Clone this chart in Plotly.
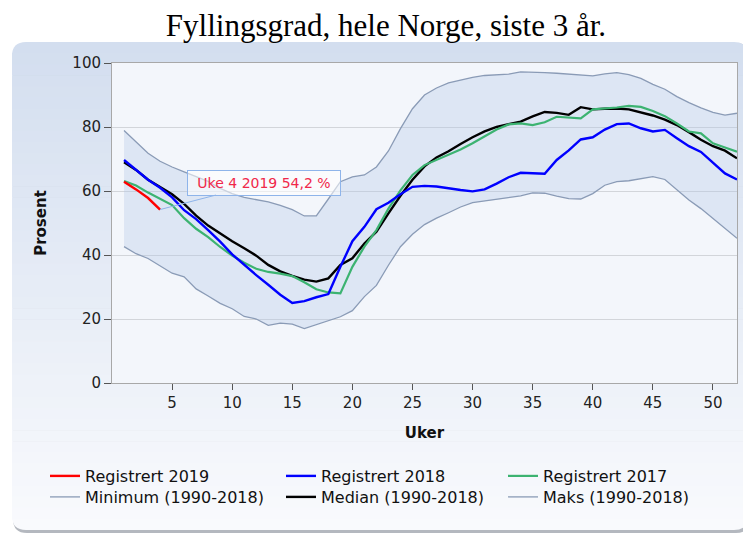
import plotly.graph_objects as go

# ---------------- data ----------------
weeks = list(range(1, 53))

reg2019_weeks = [1, 2, 3, 4]
reg2019 = [62.9, 60.5, 57.8, 54.2]

reg2018 = [69.7, 66.6, 63.5, 61.0, 58.0, 54.0, 51.2, 47.8, 44.2, 40.2,
           36.9, 33.7, 30.7, 27.6, 25.0, 25.6, 26.8, 27.8, 36.3, 44.3,
           48.8, 54.3, 56.3, 59.0, 61.3, 61.6, 61.4, 60.8, 60.3, 59.9,
           60.5, 62.3, 64.3, 65.7, 65.5, 65.4, 69.7, 72.7, 76.1, 76.8,
           79.2, 80.9, 81.1, 79.6, 78.6, 79.1, 76.5, 74.0, 72.2, 68.8,
           65.5, 63.6]

reg2017 = [63.1, 61.7, 59.5, 57.6, 55.6, 51.5, 48.2, 45.6, 42.5, 39.8,
           37.6, 35.7, 34.7, 34.2, 33.4, 31.5, 29.3, 28.3, 28.0, 36.3,
           42.6, 47.8, 54.5, 60.2, 65.0, 68.1, 69.7, 71.5, 73.0, 74.9,
           77.0, 79.2, 80.8, 81.1, 80.6, 81.5, 83.2, 83.0, 82.7, 85.5,
           85.7, 86.1, 86.6, 86.3, 85.0, 83.4, 81.1, 78.6, 78.0, 74.9,
           73.6, 72.3]

median = [69.0, 66.6, 63.5, 61.2, 59.0, 56.0, 52.3, 49.2, 46.7, 44.3,
          42.1, 39.8, 36.9, 34.9, 33.5, 32.3, 31.7, 32.7, 36.9, 39.0,
          43.6, 47.3, 53.0, 58.5, 63.5, 67.7, 70.5, 72.4, 74.7, 76.8,
          78.6, 80.0, 80.9, 81.7, 83.3, 84.7, 84.4, 83.8, 86.2, 85.5,
          85.7, 85.8, 85.5, 84.6, 83.6, 82.3, 80.6, 78.4, 76.0, 74.0,
          72.6, 70.2]

maks = [78.9, 75.5, 71.8, 69.3, 67.5, 66.0, 64.5, 63.0, 60.8, 59.2,
        58.0, 57.2, 56.6, 55.5, 54.2, 52.2, 52.2, 57.5, 62.9, 64.4,
        65.0, 67.5, 72.5, 79.5, 85.7, 90.0, 92.2, 93.8, 94.7, 95.5,
        96.1, 96.2, 96.5, 97.2, 97.2, 97.0, 96.8, 96.6, 96.3, 96.0,
        96.6, 97.0, 96.4, 95.2, 93.3, 91.8, 89.5, 87.6, 86.0, 84.6,
        83.7, 84.3]

minimum = [42.6, 40.4, 38.9, 36.5, 34.3, 33.2, 29.4, 27.2, 24.9, 23.2,
           20.8, 20.0, 18.0, 18.7, 18.4, 17.0, 18.3, 19.4, 20.7, 22.6,
           27.0, 30.5, 36.8, 42.6, 46.5, 49.5, 51.5, 53.2, 55.0, 56.4,
           56.9, 57.3, 57.8, 58.5, 59.4, 59.3, 58.4, 57.6, 57.5, 59.2,
           61.8, 62.9, 63.2, 63.8, 64.5, 63.6, 60.3, 57.2, 54.5, 51.3,
           48.2, 45.2]

x_ticks = [5, 10, 15, 20, 25, 30, 35, 40, 45, 50]
y_ticks = [0, 20, 40, 60, 80, 100]

title_text = "Fyllingsgrad, hele Norge, siste 3 år."
tooltip_text = "Uke 4 2019 54,2 %"

# ---------------- geometry helpers (decoration only) ----------------
# page body has an 8px margin; positions below are page pixels
OFF = 8
W, H = 751, 535
PL, PT, PR, PB = 112, 63, 737, 383          # plot area on the page
ML, MT = PL - OFF, PT - OFF
PW, PH = PR - PL, PB - PT
MR, MB = W - ML - PW, H - MT - PH


def px(x):
    return (x - PL) / PW


def py(y):
    return (PB - y) / PH


def hexmix(c1, c2, t):
    a = [int(c1[i:i + 2], 16) for i in (1, 3, 5)]
    b = [int(c2[i:i + 2], 16) for i in (1, 3, 5)]
    return "#" + "".join(f"{round(a[k] + (b[k] - a[k]) * t):02x}" for k in range(3))


def rpath(x0, y0, x1, y1, r, top=True, bottom=True):
    P = lambda x, y: f"{px(x):.5f},{py(y):.5f}"
    s = ""
    if top:
        s += f"M{P(x0 + r, y0)} L{P(x1 - r, y0)} Q{P(x1, y0)} {P(x1, y0 + r)} "
    else:
        s += f"M{P(x0, y0)} L{P(x1, y0)} "
    if bottom:
        s += f"L{P(x1, y1 - r)} Q{P(x1, y1)} {P(x1 - r, y1)} L{P(x0 + r, y1)} Q{P(x0, y1)} {P(x0, y1 - r)} "
    else:
        s += f"L{P(x1, y1)} L{P(x0, y1)} "
    if top:
        s += f"L{P(x0, y0 + r)} Q{P(x0, y0)} {P(x0 + r, y0)} Z"
    else:
        s += "Z"
    return s


shapes = []
X0, Y0, X1, Y1, RAD = 12, 42, 748, 530, 14
C_TOP, C_BOT = "#d3deef", "#f9fafd"
# shadow
shapes.append(dict(type="path", xref="paper", yref="paper", layer="below",
                   path=rpath(X0 + 1, Y0 + 1, X1 + 2, Y1 + 3, RAD),
                   fillcolor="#b4b8bf", line=dict(width=0)))
# gradient panel
N = 44
step = (Y1 - Y0) / N
for i in range(N):
    ya = Y0 + i * step
    yb = ya + step + 0.6
    col = hexmix(C_TOP, C_BOT, i / (N - 1))
    if i == 0:
        pth = rpath(X0, ya, X1, yb + RAD, RAD, top=True, bottom=False)
    elif i == N - 1:
        pth = rpath(X0, ya, X1, Y1, RAD, top=False, bottom=True)
    else:
        pth = rpath(X0, ya, X1, yb, RAD, top=False, bottom=False)
    shapes.append(dict(type="path", xref="paper", yref="paper", layer="below",
                       path=pth, fillcolor=col, line=dict(width=0)))
# plot-area background
shapes.append(dict(type="rect", xref="paper", yref="paper", layer="below",
                   x0=0, x1=1, y0=0, y1=1, fillcolor="#f3f6fb",
                   line=dict(width=0)))

# ---------------- traces ----------------
fig = go.Figure()

fig.add_trace(go.Scatter(
    x=weeks + weeks[::-1], y=maks + minimum[::-1], fill="toself",
    fillcolor="rgba(175,198,230,0.33)", line=dict(width=0),
    hoverinfo="skip", showlegend=False))

band_col = "#8a9bb6"
fig.add_trace(go.Scatter(x=weeks, y=minimum, mode="lines", name="Minimum (1990-2018)",
                         line=dict(color=band_col, width=1.3), legend="legend4"))
fig.add_trace(go.Scatter(x=weeks, y=maks, mode="lines", name="Maks (1990-2018)",
                         line=dict(color=band_col, width=1.3), legend="legend6"))
fig.add_trace(go.Scatter(x=weeks, y=median, mode="lines", name="Median (1990-2018)",
                         line=dict(color="#000000", width=2.4), legend="legend5"))
fig.add_trace(go.Scatter(x=weeks, y=reg2017, mode="lines", name="Registrert 2017",
                         line=dict(color="#3cb371", width=2.2), legend="legend3"))
fig.add_trace(go.Scatter(x=weeks, y=reg2018, mode="lines", name="Registrert 2018",
                         line=dict(color="#0000ff", width=2.4), legend="legend2"))
fig.add_trace(go.Scatter(x=reg2019_weeks, y=reg2019, mode="lines", name="Registrert 2019",
                         line=dict(color="#ff0000", width=2.4), legend="legend"))

# ---------------- layout ----------------
font_main = "DejaVu Sans"
leg_common = dict(orientation="v", xanchor="left", yanchor="top",
                  bgcolor="rgba(0,0,0,0)",
                  font=dict(family=font_main, size=16, color="#111"),
                  itemwidth=30)
col_x = [45, 281, 503]
row_top = [476 - 17, 497 - 17]
legends = {}
names = ["legend", "legend2", "legend3", "legend4", "legend5", "legend6"]
for k, nm in enumerate(names):
    r, c = divmod(k, 3)
    legends[nm] = dict(x=px(col_x[c]), y=py(row_top[r]), **leg_common)

fig.update_layout(
    width=W, height=H,
    margin=dict(l=ML, r=MR, t=MT, b=MB),
    paper_bgcolor="#ffffff",
    plot_bgcolor="rgba(0,0,0,0)",
    shapes=shapes,
    title=dict(text=title_text, x=(386 - OFF) / W, xanchor="center", xref="container",
               y=1 - (25 - OFF) / H, yanchor="middle", yref="container",
               font=dict(family="Liberation Serif", size=31, color="#000")),
    xaxis=dict(range=[0, 52], tickvals=x_ticks, ticks="outside", ticklen=6,
               tickcolor="#555", showgrid=False, zeroline=False,
               showline=True, linecolor="#a8a8a8", linewidth=1, mirror=True,
               tickfont=dict(family=font_main, size=15, color="#222"),
               title=dict(text="Uker", standoff=16,
                          font=dict(family=font_main, size=15, color="#111", weight="bold"))),
    yaxis=dict(range=[0, 100], tickvals=y_ticks, ticks="outside", ticklen=7,
               tickcolor="#555", showgrid=True, gridcolor="#d2d5da", gridwidth=1,
               zeroline=False, showline=True, linecolor="#a8a8a8", linewidth=1,
               mirror=True,
               tickfont=dict(family=font_main, size=15, color="#222"),
               title=dict(text="Prosent", standoff=22,
                          font=dict(family=font_main, size=15, color="#111", weight="bold"))),
    annotations=[dict(
        x=reg2019_weeks[-1], y=reg2019[-1], xref="x", yref="y",
        text=tooltip_text, showarrow=True, arrowhead=0, arrowwidth=1,
        arrowcolor="#8eb4ea", ax=104, ay=-27,
        bgcolor="rgba(255,255,255,0.55)", bordercolor="#8eb4ea",
        borderwidth=1, borderpad=3, width=146, height=18,
        font=dict(family=font_main, size=14, color="#f0284a"))],
    **legends,
)

fig.write_html("out.html")
